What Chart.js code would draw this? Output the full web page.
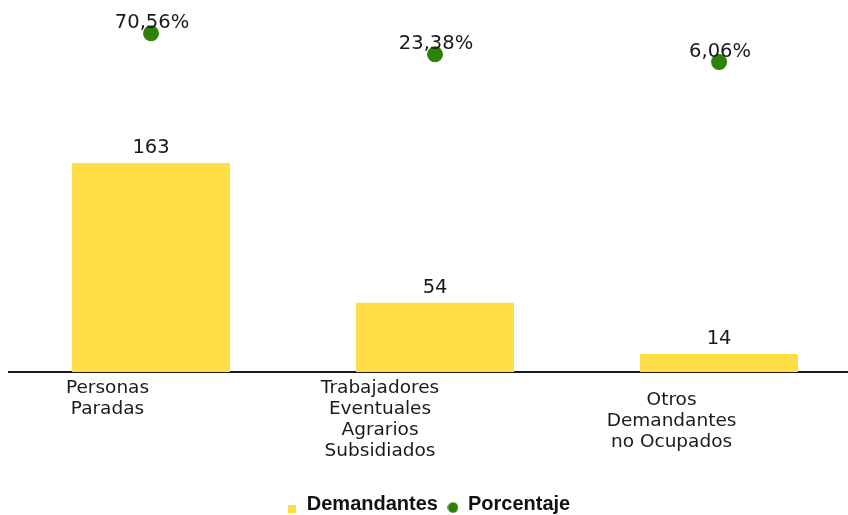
<!DOCTYPE html>
<html>
<head>
<meta charset="utf-8">
<script src="https://cdn.jsdelivr.net/npm/chart.js@4/dist/chart.umd.min.js"></script>
<style>
  html, body { margin: 0; padding: 0; background: #ffffff; }
  #wrap { width: 848px; height: 515px; }
</style>
</head>
<body>
<div id="wrap"><canvas id="c" width="848" height="515"></canvas></div>
<script>
// ---- data ----
const categories = [
  ['Personas', 'Paradas'],
  ['Trabajadores', 'Eventuales', 'Agrarios', 'Subsidiados'],
  ['Otros', 'Demandantes', 'no Ocupados']
];
const demandantes = [163, 54, 14];
const porcentaje = [70.56, 23.38, 6.06];
const seriesNames = ['Demandantes', 'Porcentaje'];

// ---- styles ----
const YELLOW = '#ffdd44';
const GREEN = '#2e8207';
const TEXT = '#1a1a1a';
const catShift = [-43.5, -55, -47.5];
const catFirstBaseline = [21, 21, 33];
const catLineStep = 21;

function fmtPct(v) { return v.toFixed(2).replace('.', ',') + '%'; }

function makeSquareMarker() {
  const c = document.createElement('canvas');
  c.width = 8; c.height = 18;
  const g = c.getContext('2d');
  g.fillStyle = YELLOW;
  g.fillRect(0, 10, 8, 8);
  return c;
}
function makeCircleMarker() {
  const c = document.createElement('canvas');
  c.width = 11; c.height = 18;
  const g = c.getContext('2d');
  g.fillStyle = GREEN;
  g.beginPath();
  g.arc(5.5, 12.5, 5.2, 0, Math.PI * 2);
  g.fill();
  return c;
}
const markers = [makeSquareMarker(), makeCircleMarker()];

const labelPlugin = {
  id: 'valueAndCategoryLabels',
  afterDatasetsDraw(chart) {
    const ctx = chart.ctx;
    ctx.save();
    ctx.fillStyle = TEXT;
    ctx.textAlign = 'center';
    ctx.textBaseline = 'alphabetic';
    ctx.font = '19.5px "DejaVu Sans"';
    chart.getDatasetMeta(0).data.forEach((bar, i) => {
      ctx.fillText(String(demandantes[i]), bar.x, bar.y - 10);
    });
    chart.getDatasetMeta(1).data.forEach((pt, i) => {
      ctx.fillText(fmtPct(porcentaje[i]), pt.x + 1, pt.y - 5);
    });
    ctx.font = '18.5px "DejaVu Sans"';
    const xs = chart.scales.x;
    const bottom = chart.chartArea.bottom;
    categories.forEach((lines, i) => {
      const cx = xs.getPixelForValue(i) + catShift[i];
      lines.forEach((line, j) => {
        ctx.fillText(line, cx, bottom + catFirstBaseline[i] + j * catLineStep);
      });
    });
    ctx.restore();
  }
};

new Chart(document.getElementById('c'), {
  type: 'bar',
  data: {
    datasets: [
      {
        type: 'bar',
        label: seriesNames[0],
        data: demandantes.map((v, i) => ({ x: i, y: v })),
        backgroundColor: YELLOW,
        borderWidth: 0,
        barPercentage: 0.556,
        categoryPercentage: 1.0,
        yAxisID: 'y',
        order: 2
      },
      {
        type: 'line',
        label: seriesNames[1],
        data: porcentaje.map((v, i) => ({ x: i, y: v })),
        showLine: false,
        pointRadius: 8,
        pointHoverRadius: 8,
        pointBackgroundColor: GREEN,
        pointBorderWidth: 0,
        borderColor: GREEN,
        backgroundColor: GREEN,
        yAxisID: 'y2',
        order: 1
      }
    ]
  },
  options: {
    responsive: false,
    devicePixelRatio: 1,
    animation: false,
    events: [],
    layout: { autoPadding: false, padding: { left: 9, right: 0, top: 0, bottom: -9 } },
    plugins: {
      tooltip: { enabled: false },
      legend: {
        position: 'bottom',
        align: 'center',
        labels: {
          usePointStyle: true,
          boxWidth: 10,
          boxHeight: 10,
          padding: 10,
          color: '#111111',
          font: { family: '"Liberation Sans", Arial, sans-serif', size: 20, weight: 'bold' },
          generateLabels: (chart) => chart.data.datasets.map((ds, i) => ({
            text: ds.label,
            fillStyle: ds.backgroundColor,
            strokeStyle: ds.backgroundColor,
            lineWidth: 0,
            pointStyle: markers[i],
            hidden: false,
            datasetIndex: i,
            fontColor: '#111111'
          }))
        }
      }
    },
    scales: {
      x: {
        type: 'linear',
        offset: false,
        min: -0.5,
        max: 2.454,
        z: 1,
        grid: { display: false, offset: false },
        ticks: { display: false },
        border: { display: true, color: '#1a1a1a', width: 2 },
        afterBuildTicks: (scale) => { scale.ticks = categories.map((c, i) => ({ value: i })); },
        afterFit: (scale) => { scale.height = 112; }
      },
      y: {
        display: false,
        min: 0,
        max: 290
      },
      y2: {
        display: false,
        position: 'right',
        min: -690.6,
        max: 145.4
      }
    }
  },
  plugins: [labelPlugin]
});
</script>
</body>
</html>
